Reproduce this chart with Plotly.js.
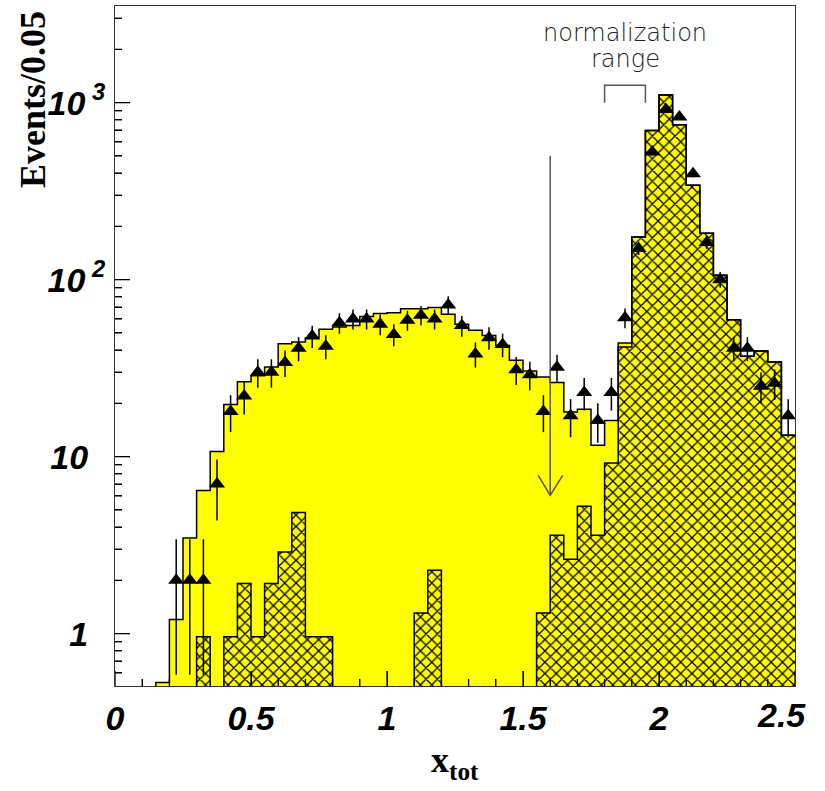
<!DOCTYPE html>
<html>
<head>
<meta charset="utf-8">
<script src="https://cdn.plot.ly/plotly-3.0.1.min.js"></script>
<style>html,body{margin:0;padding:0;background:#fff;}#chart{width:825px;height:791px;}</style>
</head>
<body>
<div id="chart"></div>
<script>
// bin centres of x_tot (bin width 0.05, 0..2.5)
const binCenters = [0.025,0.075,0.125,0.175,0.225,0.275,0.325,0.375,0.425,0.475,
  0.525,0.575,0.625,0.675,0.725,0.775,0.825,0.875,0.925,0.975,
  1.025,1.075,1.125,1.175,1.225,1.275,1.325,1.375,1.425,1.475,
  1.525,1.575,1.625,1.675,1.725,1.775,1.825,1.875,1.925,1.975,
  2.025,2.075,2.125,2.175,2.225,2.275,2.325,2.375,2.425,2.475];
const binWidth = 0.05;

// total simulation (yellow histogram)
const totalMC = [0,0,0,0.53,1.2,3.47,6.43,10.7,19.7,26.5,
  28.6,32.1,43.5,44.5,47,52.4,54,55,62,64.3,
  65,68.5,68.5,69.5,63.7,55.9,51.7,48.3,42.5,35,
  30.5,28.2,26.2,17.9,18.5,11.6,16.0,43.8,174,697,
  1104,751,341,183,106,59.4,36.9,39.5,34.2,13.2];

// hatched component
const hatchedMC = [0,0,0,0,0,0,0.96,0,0.96,1.92,
  0.96,1.92,2.89,4.83,0.96,0.96,0,0,0,0,
  0,0,1.31,2.28,0,0,0,0,0,0,
  0,1.31,3.6,2.63,5.24,3.6,9.2,41.6,174,697,
  1104,751,341,183,106,59.4,36.9,39.5,34.2,13.2];

// data counts (triangles)
const dataCounts = [null,null,null,null,2,2,2,7,18,22,
  30,30,34,41,48,42,57,60,60,56,
  49,59,63,60,72,55,38,47,43,31,
  29,18,32,17,23,16,23,61,150,526,
  916,829,397,162,100,41,41,25,26,17];

const xTickVals = [0,0.5,1,1.5,2,2.5];
const xTickText = ['0','0.5','1','1.5','2',''];
const lastXLabel = '2.5';
const yTickVals = [1,10,100,1000];
const yTickText = ['1&#8194;','10&#8194;','10<sup> 2</sup>','10<sup> 3</sup>'];

const cutX = 1.6;
const normRange = [1.8,1.95];

const X_RANGE = [0, 2.5];
const Y_RANGE = [Math.log10(0.506), Math.log10(3516)];
const PLOT_PX = 680;

const FLOOR = 0.05;
const edges = binCenters.map(c => c - binWidth/2);
function stepLine(vals){
  const xs = edges.concat([edges[edges.length-1] + binWidth]);
  const ys = vals.map(v => (v && v > 0) ? v : FLOOR);
  ys.push(ys[ys.length-1]);
  return {xs, ys};
}
const totStep = stepLine(totalMC);
const hatStep = stepLine(hatchedMC);
const nz = a => a.map(v => (v && v > 0) ? v : null);

// inside tick marks (major 15 px, minor 7 px), positioned through the axis scales
const xMinorVals = [];
for (let k = 1; k < 25; k++) { if (k % 5 !== 0) xMinorVals.push(k/10); }
const yMinorVals = [];
[0.1,1,10,100,1000].forEach(d => { for (let k = 2; k <= 9; k++) {
  const v = k*d; if (Math.log10(v) > Y_RANGE[0] && Math.log10(v) < Y_RANGE[1]) yMinorVals.push(v); } });
const yAt = px => Math.pow(10, Y_RANGE[0] + px/PLOT_PX*(Y_RANGE[1]-Y_RANGE[0]));
const xAt = px => X_RANGE[0] + px/PLOT_PX*(X_RANGE[1]-X_RANGE[0]);
const tickTraces = [];
const tickTrace = (xs, ys) => ({type:'scatter', mode:'lines', x:xs, y:ys,
  line:{color:'#000', width:1.3}, hoverinfo:'skip', showlegend:false, cliponaxis:false});
xTickVals.forEach(v => tickTraces.push(tickTrace([v, v], [yAt(0), yAt(15)])));
xMinorVals.forEach(v => tickTraces.push(tickTrace([v, v], [yAt(0), yAt(7)])));
yTickVals.forEach(v => tickTraces.push(tickTrace([xAt(0), xAt(15)], [v, v])));
yMinorVals.forEach(v => tickTraces.push(tickTrace([xAt(0), xAt(7)], [v, v])));

const YELLOW = '#ffff00';
const TICKFONT = {family:'Liberation Sans, Arial, sans-serif', size:34, weight:'bold', style:'italic', color:'#000'};
const traces = [
  {type:'bar', x:binCenters, y:nz(totalMC), width:binWidth,
   marker:{color:YELLOW, line:{width:0}}, hoverinfo:'skip', showlegend:false},
  {type:'bar', x:binCenters, y:nz(hatchedMC), width:binWidth,
   marker:{color:YELLOW, line:{width:0},
     pattern:{shape:'x', fgcolor:'#000', bgcolor:YELLOW, size:8, solidity:0.3, fillmode:'replace'}},
   hoverinfo:'skip', showlegend:false},
  {type:'scatter', mode:'lines', x:totStep.xs, y:totStep.ys,
   line:{shape:'hv', color:'#000', width:1.5}, hoverinfo:'skip', showlegend:false},
  {type:'scatter', mode:'lines', x:hatStep.xs, y:hatStep.ys,
   line:{shape:'hv', color:'#000', width:1.5}, hoverinfo:'skip', showlegend:false},
  {type:'scatter', mode:'markers', x:binCenters, y:dataCounts,
   marker:{symbol:'triangle-up', size:14, color:'#000'},
   error_y:{type:'data', array:dataCounts.map(v => v == null ? null : Math.sqrt(v)),
     color:'#000', thickness:1.5, width:0},
   showlegend:false}
].concat(tickTraces);

const layout = {
  width:825, height:791,
  margin:{l:115, r:30, t:6, b:105},
  paper_bgcolor:'#fff', plot_bgcolor:'#fff',
  barmode:'overlay', bargap:0, showlegend:false,
  xaxis:{range:X_RANGE, tickvals:xTickVals, ticktext:xTickText,
    ticks:'inside', ticklen:15, tickcolor:'#000',
    minor:{dtick:0.1, ticks:'inside', ticklen:7, tickcolor:'#000'},
    showgrid:false, zeroline:false, showline:true, linecolor:'#333', linewidth:1, mirror:true,
    layer:'above traces', ticklabelstandoff:2, tickfont:TICKFONT},
  yaxis:{type:'log', range:Y_RANGE, tickvals:yTickVals, ticktext:yTickText,
    ticks:'inside', ticklen:15, tickcolor:'#000',
    minor:{tickvals:yMinorVals, ticks:'inside', ticklen:7, tickcolor:'#000', showgrid:false},
    showgrid:false, zeroline:false, showline:true, linecolor:'#333', linewidth:1, mirror:true,
    layer:'above traces', ticklabelstandoff:2, tickfont:TICKFONT},
  shapes:[
    {type:'line', xref:'x', yref:'y', x0:cutX, x1:cutX, y0:500, y1:6.04, line:{color:'#555', width:1.5}},
    {type:'path', xref:'x', yref:'y', path:'M 1.556 7.84 L 1.6 6.04 L 1.646 7.84', line:{color:'#555', width:1.5}},
    {type:'path', xref:'x', yref:'y',
     path:'M '+normRange[0]+' 1000 L '+normRange[0]+' 1253 L '+normRange[1]+' 1253 L '+normRange[1]+' 1000',
     line:{color:'#555', width:1.5}}
  ],
  annotations:[
    {text:lastXLabel, xref:'x', yref:'paper', x:2.5, xshift:-14, y:-(715-686)/PLOT_PX,
     xanchor:'center', yanchor:'middle', showarrow:false, font:TICKFONT},
    {text:'normalization', xref:'paper', yref:'paper', x:(625-115)/PLOT_PX, y:1-(33-6)/PLOT_PX,
     xanchor:'center', yanchor:'middle', showarrow:false,
     font:{family:'DejaVu Sans', weight:200, size:24, color:'#222'}},
    {text:'range', xref:'paper', yref:'paper', x:(625-115)/PLOT_PX, y:1-(59-6)/PLOT_PX,
     xanchor:'center', yanchor:'middle', showarrow:false,
     font:{family:'DejaVu Sans', weight:200, size:24, color:'#222'}},
    {text:'<b>Events/0.05</b>', xref:'paper', yref:'paper', x:(33-115)/PLOT_PX, y:1-(100-6)/PLOT_PX,
     xanchor:'center', yanchor:'middle', textangle:-90, showarrow:false,
     font:{family:'Liberation Serif, Times New Roman, serif', size:36, color:'#000'}},
    {text:'<b>x<sub>tot</sub></b>', xref:'paper', yref:'paper', x:(455-115)/PLOT_PX, y:-(762-686)/PLOT_PX,
     xanchor:'center', yanchor:'middle', showarrow:false,
     font:{family:'Liberation Serif, Times New Roman, serif', size:36, color:'#000'}}
  ]
};

Plotly.newPlot('chart', traces, layout, {displayModeBar:false, staticPlot:true});
</script>
</body>
</html>
